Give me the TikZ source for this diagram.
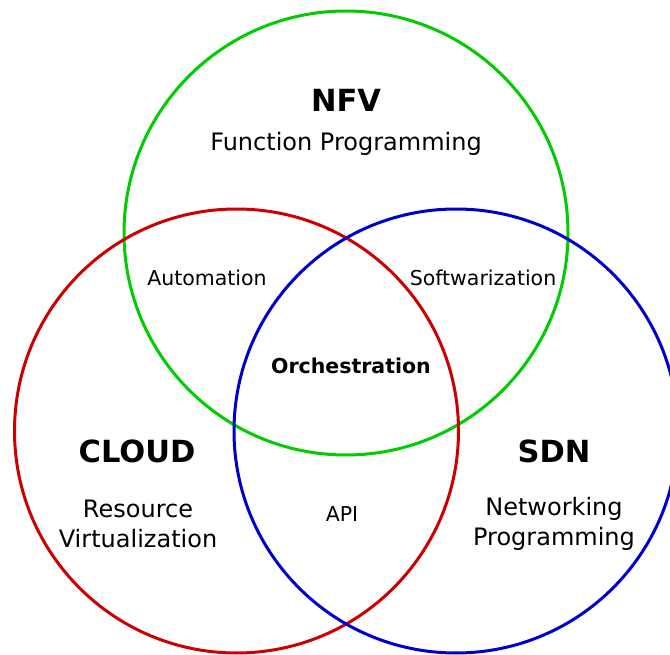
\documentclass[tikz,border=0pt]{standalone}
\usepackage{fontspec}
\setmainfont{DejaVu Sans}
\definecolor{vgreen}{RGB}{0,204,0}
\definecolor{vred}{RGB}{204,0,0}
\definecolor{vblue}{RGB}{0,0,204}
\tikzset{
  ring/.style={circle, draw=#1, line width=3pt, minimum size=444pt, inner sep=0pt},
  title/.style={anchor=base, inner sep=0pt, font=\fontsize{30.5}{34}\selectfont\bfseries},
  sub/.style={anchor=base, inner sep=0pt, font=\fontsize{24}{28}\selectfont},
  small/.style={anchor=base, inner sep=0pt, font=\fontsize{20.5}{24}\selectfont},
  smallb/.style={anchor=base, inner sep=0pt, font=\fontsize{20.5}{24}\selectfont\bfseries}
}
\begin{document}
\begin{tikzpicture}[x=1pt, y=-1pt]
\useasboundingbox (0,0) rectangle (670,655);
\node[ring=vgreen] (nfvc) at (346,233) {};
\node[ring=vred] (cloudc) at (236.5,431) {};
\node[ring=vblue] (sdnc) at (456,431) {};
\node[title] (nfv) at (346,112) {NFV};
\node[sub] (fp) at (346,151) {Function Programming};
\node[small] (auto) at (207,285.5) {Automation};
\node[small] (soft) at (483,285.5) {Softwarization};
\node[smallb] (orch) at (351,373.5) {Orchestration};
\node[title] (cloud) at (137,462) {CLOUD};
\node[sub] (res) at (138,517) {Resource};
\node[sub] (virt) at (138,547) {Virtualization};
\node[title] (sdn) at (554,462) {SDN};
\node[sub] (net) at (554,515) {Networking};
\node[sub] (prog) at (554,545) {Programming};
\node[small] (api) at (342,521.5) {API};
\end{tikzpicture}
\end{document}
